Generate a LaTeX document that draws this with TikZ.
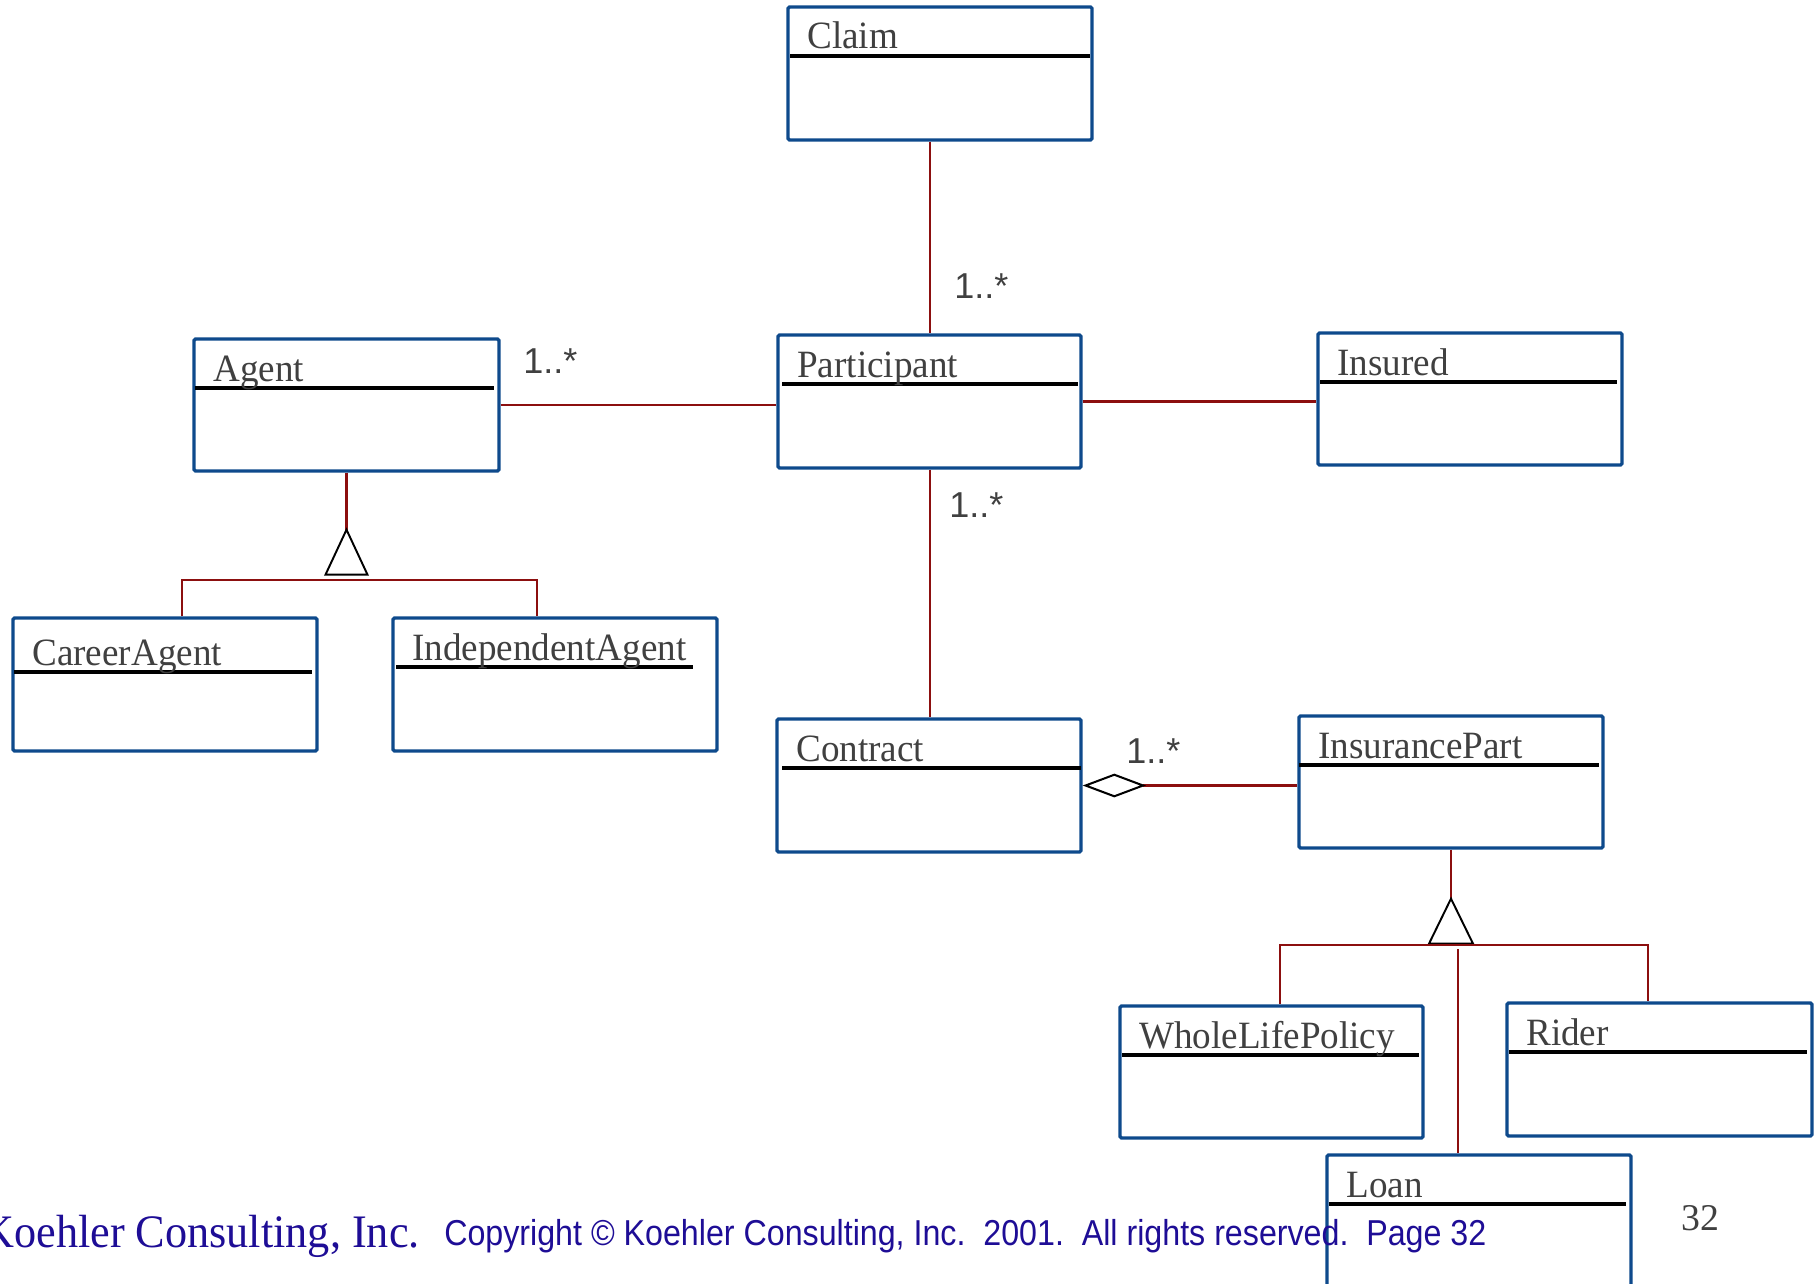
\documentclass[tikz,border=0pt]{standalone}
\usepackage{fontspec}
\setmainfont{Liberation Serif}
\newfontfamily\labelsans{Liberation Sans}
\usetikzlibrary{fit,arrows.meta}

\definecolor{boxblue}{HTML}{0E4A8C}
\definecolor{linkred}{HTML}{8C0F0F}
\definecolor{namegray}{HTML}{404040}
\definecolor{footblue}{HTML}{1E0D96}

\tikzset{
  classbox/.style={draw=boxblue, line width=1.9pt, fill=white, inner sep=0pt, rounded corners=0.8pt},
  divider/.style={draw=black, line width=2pt},
  classname/.style={anchor=base west, inner sep=0pt, text=namegray,
    font=\fontsize{22}{26}\selectfont, xscale=0.96},
  mult/.style={anchor=base west, inner sep=0pt, text=namegray,
    font=\labelsans\fontsize{20.5}{24}\selectfont},
  assoc/.style={draw=linkred, line width=1.15pt},
  gentri/.style={draw=black, line width=1.1pt, fill=white, line join=miter},
}

% #1 name, #2-#5 corners, #6 class name, #7 divider y, #8-#9 divider x-range
\newcommand\umlclass[9]{%
  \node[classbox, fit={(#2,#3)(#4,#5)}] (#1) {};
  \draw[divider] (#8,#7) -- (#9,#7);
  \node[classname] (#1-name) at (#2+19,#7-7) {#6};
}

\begin{document}
\begin{tikzpicture}[x=0.02cm, y=-0.02cm]
  \useasboundingbox (0,0) rectangle (1819,1284);
  \clip (0,0) rectangle (1819,1284);
  \fill[white] (0,0) rectangle (1819,1284);

  % classes
  \umlclass{claim}{788}{7}{1092}{140}{Claim}{56}{790}{1090}
  \umlclass{agent}{194}{339}{499}{471}{Agent}{388}{195}{494}
  \umlclass{participant}{778}{335}{1081}{468}{Participant}{384}{782}{1078}
  \umlclass{insured}{1318}{333}{1622}{465}{Insured}{382}{1320}{1617}
  \umlclass{careeragent}{13}{618}{317}{751}{CareerAgent}{672}{14}{312}
  \umlclass{independentagent}{393}{618}{717}{751}{IndependentAgent}{667}{396}{693}
  \umlclass{contract}{777}{719}{1081}{852}{Contract}{768}{782}{1081}
  \umlclass{insurancepart}{1299}{716}{1603}{848}{InsurancePart}{765}{1299}{1599}
  \umlclass{wholelifepolicy}{1120}{1006}{1423}{1138}{WholeLifePolicy}{1055}{1122}{1419}
  \umlclass{rider}{1507}{1003}{1812}{1136}{Rider}{1052}{1509}{1807}
  \umlclass{loan}{1327}{1155}{1631}{1320}{Loan}{1204}{1329}{1626}

  % associations
  \draw[assoc] (claim.south -| participant.north) -- (participant.north);
  \draw[assoc] (agent.east) -- (agent.east -| participant.west);
  \draw[assoc] (participant.east) -- (participant.east -| insured.west);
  \draw[assoc] (participant.south) -- (participant.south |- contract.north);
  \draw[assoc, {Diamond[open, length=36pt, width=13.5pt, color=black]}-]
    (contract.east) -- (contract.east -| insurancepart.west);

  % multiplicities
  \node[mult] (m-claim) at (954,298) {1..*};
  \node[mult] (m-agent) at (523,373) {1..*};
  \node[mult] (m-contract) at (949,517) {1..*};
  \node[mult] (m-part) at (1126,763) {1..*};

  % agent generalization
  \draw[assoc] (agent.south) -- ++(0,57) coordinate (agapex);
  \draw[gentri] (agapex) -- ++(-21,45) -- ++(42,0) -- cycle;
  \coordinate (agL) at (182,580);
  \coordinate (agR) at (537,580);
  \draw[assoc] (careeragent.north -| agL) -- (agL) -- (agR) -- (agR |- independentagent.north);

  % insurance part generalization
  \draw[assoc] (insurancepart.south) -- ++(0,49) coordinate (ipapex);
  \draw[gentri] (ipapex) -- ++(-22,45) -- ++(44,0) -- cycle;
  \coordinate (ipL) at (1280,945);
  \coordinate (ipR) at (1648,945);
  \draw[assoc] (wholelifepolicy.north -| ipL) -- (ipL) -- (ipR) -- (ipR |- rider.north);
  \coordinate (loantop) at (1458,949);
  \draw[assoc] (loantop) -- (loantop |- loan.north);

  % footer
  \node[anchor=base east, inner sep=0pt, text=footblue,
    font=\fontsize{26.5}{30}\selectfont, xscale=0.95] (firm) at (420,1247)
    {Koehler Consulting, Inc.};
  \node[anchor=base west, inner sep=0pt, text=footblue,
    font=\labelsans\fontsize{20.5}{24}\selectfont, xscale=0.894] (copyright) at (444,1245)
    {Copyright © Koehler Consulting, Inc.\ \ 2001.\ \ All rights reserved.\ \ Page 32};
  \node[anchor=base west, inner sep=0pt, text=namegray,
    font=\fontsize{21.5}{25}\selectfont] (pagenum) at (1681,1230) {32};
\end{tikzpicture}
\end{document}
